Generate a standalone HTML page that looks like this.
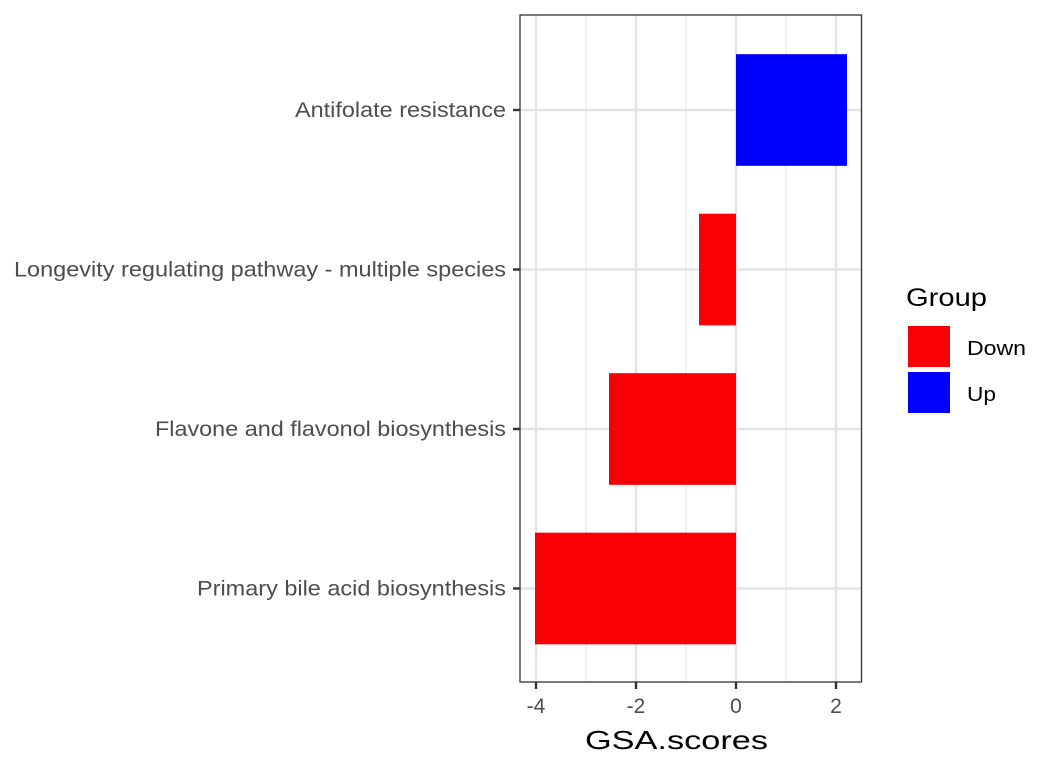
<!DOCTYPE html>
<html><head><meta charset="utf-8"><style>
body{margin:0;background:#fff;font-family:"Liberation Sans",Arial,sans-serif}
</style></head><body>
<svg width="1056" height="768" xmlns="http://www.w3.org/2000/svg" font-family="Liberation Sans, Arial, sans-serif">
<g id="grid"></g>
<g id="bars"></g>
<rect x="520" y="15" width="341.5" height="667" fill="none" stroke="#333" stroke-width="1.3"/>
<g id="axes"></g>
<text x="585" y="749" font-size="26" textLength="183" lengthAdjust="spacingAndGlyphs" fill="#000">GSA.scores</text>
<g>
<text x="906" y="306" font-size="25" textLength="81" lengthAdjust="spacingAndGlyphs" fill="#000">Group</text>
<rect x="908" y="326" width="42" height="41" fill="#FA0006"/>
<text x="967" y="355" font-size="20" textLength="59" lengthAdjust="spacingAndGlyphs" fill="#000">Down</text>
<rect x="908" y="372" width="42" height="41" fill="#0000FF"/>
<text x="967" y="401" font-size="20" textLength="29" lengthAdjust="spacingAndGlyphs" fill="#000">Up</text>
</g>
</svg>
<script>
const categories=["Antifolate resistance","Longevity regulating pathway - multiple species","Flavone and flavonol biosynthesis","Primary bile acid biosynthesis"];
const values=[2.22,-0.74,-2.54,-4.02];
const groups=["Up","Down","Down","Down"];
const xTicks=[-4,-2,0,2];
const minorTicks=[-3,-1,1];
const colors={Up:"#0000FF",Down:"#FA0006"};
const labelWidths=[211,492,351,309];
const NS="http://www.w3.org/2000/svg";
const x=v=>736+v*50;
const y=i=>110+i*159.5;
const bandH=159.5*0.7;
function mk(t,a,p){const e=document.createElementNS(NS,t);for(const k in a)e.setAttribute(k,a[k]);p.appendChild(e);return e;}
const grid=document.getElementById('grid'),bars=document.getElementById('bars'),axes=document.getElementById('axes');
minorTicks.forEach(v=>{const l=mk('line',{x1:x(v),x2:x(v),y1:15,y2:682,stroke:'#ebebeb','stroke-width':1.2},grid);

});
xTicks.forEach(v=>{const l=mk('line',{x1:x(v),x2:x(v),y1:15,y2:682,stroke:'#e3e3e3','stroke-width':2.4},grid);


const t=mk('line',{x1:x(v),x2:x(v),y1:682,y2:689,stroke:'#333','stroke-width':2.4},axes);


const tx=mk('text',{x:x(v),y:713,'font-size':21,'text-anchor':'middle',fill:'#4d4d4d'},axes);tx.textContent=v;

});
categories.forEach((c,i)=>{const l=mk('line',{x1:520,x2:861,y1:y(i),y2:y(i),stroke:'#e3e3e3','stroke-width':2.4},grid);


const v=values[i];
const r=mk('rect',{x:Math.min(x(0),x(v)),y:y(i)-bandH/2,width:Math.abs(x(v)-x(0)),height:bandH,fill:colors[groups[i]]},bars);


const t=mk('line',{x1:513,x2:520,y1:y(i),y2:y(i),stroke:'#333','stroke-width':2.4},axes);


const tx=mk('text',{x:506-labelWidths[i],y:y(i)+7,'font-size':21,textLength:labelWidths[i],lengthAdjust:'spacingAndGlyphs',fill:'#4d4d4d'},axes);tx.textContent=c;

});
</script>
</body></html>
